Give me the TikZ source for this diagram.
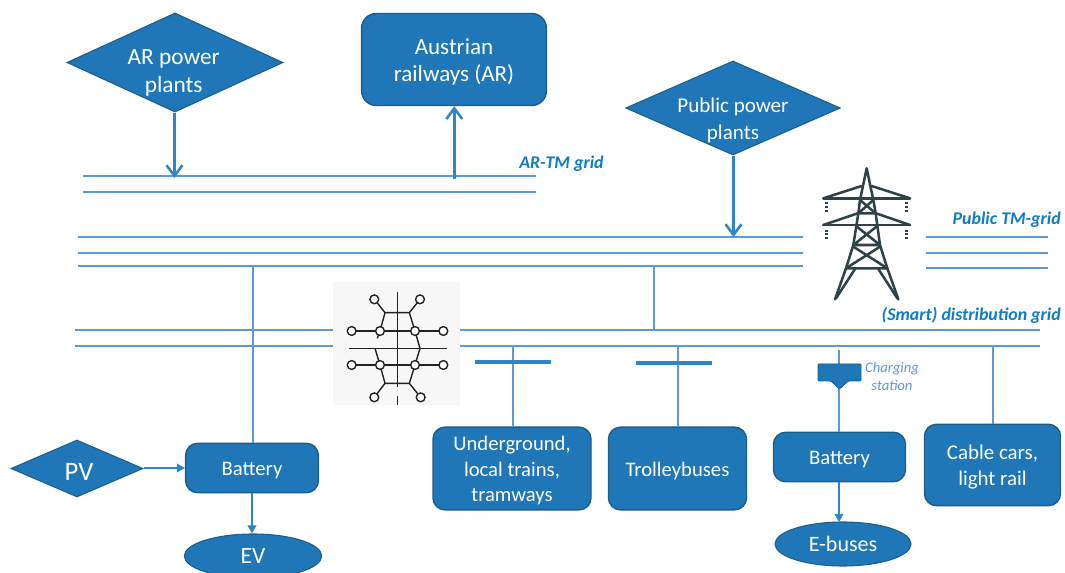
\documentclass[tikz,border=0pt]{standalone}
\usepackage{fontspec}
\setmainfont{Carlito}
\usetikzlibrary{shapes.geometric,arrows.meta}
\definecolor{boxfill}{HTML}{1F77B8}
\definecolor{boxedge}{HTML}{1B5E8C}
\definecolor{busline}{HTML}{5B9BD5}
\definecolor{arrowblue}{HTML}{2E86C8}
\definecolor{labelblue}{HTML}{0F7CC4}
\definecolor{towerdark}{HTML}{2F4247}
\definecolor{swdark}{HTML}{222222}
\tikzset{
 x=0.75pt,y=-0.75pt,
 solidbox/.style={draw=boxedge,line width=1.1pt,fill=boxfill,rounded corners=9pt,inner sep=0pt},
 gem/.style={diamond,draw=boxedge,line width=0.8pt,fill=boxfill,inner sep=0pt},
 gemtext/.style={text=white,align=center,inner sep=0pt,font=\fontsize{16.5pt}{21pt}\selectfont},
 boxtext/.style={text=white,align=center,inner sep=0pt,yshift=-1.6pt,font=\fontsize{15.5pt}{19pt}\selectfont},
 oval/.style={ellipse,draw=boxedge,line width=0.8pt,fill=boxfill,text=white,inner sep=0pt,font=\fontsize{17.5pt}{19pt}\selectfont},
 bus/.style={draw=busline,line width=1.15pt},
 feed/.style={draw=busline,line width=1pt},
 bigarrow/.style={draw=arrowblue,line width=1.9pt,-{Straight Barb[length=8pt,width=12pt,line width=1.9pt]}},
 smallarrow/.style={draw=arrowblue,line width=1pt,-{Triangle[length=6pt,width=6.5pt]}},
 gridlabel/.style={text=labelblue,font=\fontsize{13.4pt}{15pt}\selectfont\bfseries\itshape,inner sep=0pt},
 tbar/.style={draw=arrowblue,line width=2.3pt},
 tw/.style={draw=towerdark,line width=1.9pt,line cap=round,line join=round},
 sw/.style={draw=swdark,line width=1.05pt},
 swdot/.style={circle,draw=swdark,line width=1.05pt,fill=white,minimum size=6.6pt,inner sep=0pt},
}
\begin{document}
\begin{tikzpicture}
\useasboundingbox (0,0) rectangle (1065,573);
\fill[white] (0,0) rectangle (1065,573);
% bus ends
\coordinate (a1l) at (83,176); \coordinate (a1r) at (536,176);
\coordinate (a2l) at (83,192); \coordinate (a2r) at (536,192);
\coordinate (p1l) at (78,237); \coordinate (p1r) at (803,237);
\coordinate (p2l) at (78,253); \coordinate (p2r) at (803,253);
\coordinate (p3l) at (78,266); \coordinate (p3r) at (803,266);
\coordinate (q1l) at (926,237); \coordinate (q1r) at (1048,237);
\coordinate (q2l) at (926,253); \coordinate (q2r) at (1048,253);
\coordinate (q3l) at (926,268); \coordinate (q3r) at (1048,268);
\coordinate (d1l) at (75,330); \coordinate (d1m) at (333,330);
\coordinate (d1n) at (459,330); \coordinate (d1r) at (1040,330);
\coordinate (d2l) at (75,346); \coordinate (d2m) at (333,346);
\coordinate (d2n) at (459,346); \coordinate (d2r) at (1040,346);
\foreach \p/\q in {a1l/a1r,a2l/a2r,p1l/p1r,p2l/p2r,p3l/p3r,q1l/q1r,q2l/q2r,q3l/q3r,d1l/d1m,d1n/d1r,d2l/d2m,d2n/d2r}
  \draw[bus] (\p) -- (\q);
% nodes
\node[gem,aspect=2.18,minimum width=162pt,minimum height=74.3pt,label={[gemtext,name=arppt,yshift=-7.5pt,xshift=-1pt,font=\fontsize{17.5pt}{21pt}\selectfont]center:AR power\\plants}] (arpp) at (175,62.5) {};
\node[gem,aspect=2.29,minimum width=161pt,minimum height=70.5pt,label={[gemtext,name=pubppt,yshift=-9.3pt,font=\fontsize{15.8pt}{20.5pt}\selectfont]center:Public power\\plants}] (pubpp) at (733,108) {};
\node[gem,aspect=2.32,minimum width=99pt,minimum height=42.7pt,label={[gemtext,name=pvt,yshift=-2.5pt,xshift=1.5pt,font=\fontsize{20pt}{22pt}\selectfont]center:PV}] (pv) at (77,468.5) {};
\node[solidbox,minimum width=138.5pt,minimum height=69pt,rounded corners=11pt,label={[boxtext,name=art,font=\fontsize{17.3pt}{20.5pt}\selectfont]center:Austrian\\railways (AR)}] (ar) at (454,59.5) {};
\node[solidbox,minimum width=99.5pt,minimum height=37pt,label={[boxtext,name=bat1t,yshift=-0.6pt]center:Battery}] (bat1) at (252,468) {};
\node[solidbox,minimum width=118.5pt,minimum height=62pt,label={[boxtext,name=ugt]center:{Underground,\\local trains,\\tramways}}] (ug) at (512,468.5) {};
\node[solidbox,minimum width=103.5pt,minimum height=62pt,label={[boxtext,name=tbt]center:Trolleybuses}] (tb) at (677.5,468.5) {};
\node[solidbox,minimum width=99pt,minimum height=37pt,label={[boxtext,name=bat2t]center:Battery}] (bat2) at (839.5,457) {};
\node[solidbox,minimum width=102pt,minimum height=61pt,label={[boxtext,name=cct,font=\fontsize{15.7pt}{19pt}\selectfont]center:{Cable cars,\\light rail}}] (cc) at (992.5,465) {};
\node[oval,minimum width=103pt,minimum height=33pt] (ev) at (253,556) {EV};
\node[oval,minimum width=102pt,minimum height=33pt,font=\fontsize{16.5pt}{19pt}\selectfont] (eb) at (843,544) {E-buses};
% labels
\node[gridlabel,anchor=west] (l1) at (519,164) {AR-TM grid};
\node[gridlabel,anchor=east] (l2) at (1061,220) {Public TM-grid};
\node[gridlabel,anchor=east] (l3) at (1061,315) {(Smart) distribution grid};
\node[text=busline,align=center,inner sep=0pt,font=\fontsize{11pt}{13.5pt}\selectfont\itshape] (l4) at (892,376) {Charging\\station};
% arrows
\coordinate (ara) at (174.5,178);
\coordinate (arb) at (454.3,179);
\coordinate (pa) at (733.5,237);
\draw[bigarrow] (arpp.south -| ara) -- (ara);
\draw[bigarrow] (arb) -- (ar.south -| arb);
\draw[bigarrow] (pubpp.south -| pa) -- (pa);
\draw[smallarrow] (pv.east |- bat1.west) -- (bat1.west);
\draw[smallarrow] (bat1.south) -- (bat1.south |- ev.north);
\coordinate (bb) at (839,482);
\coordinate (bc) at (839,522);
\draw[smallarrow] (bb) -- (bc);
% feeders
\coordinate (f1) at (253,266); \draw[feed] (f1) -- (bat1.north -| f1);
\coordinate (f2) at (654,266); \coordinate (f2b) at (654,330); \draw[feed] (f2) -- (f2b);
\coordinate (f3) at (513,346); \draw[feed] (f3) -- (ug.north -| f3);
\coordinate (f4) at (678,346); \draw[feed] (f4) -- (tb.north -| f4);
\coordinate (f5) at (839,350); \draw[feed] (f5) -- (bat2.north -| f5);
\coordinate (f6) at (993,346); \draw[feed] (f6) -- (cc.north -| f6);
\coordinate (b1l) at (475,362); \coordinate (b1r) at (551,362); \draw[tbar] (b1l) -- (b1r);
\coordinate (b2l) at (636,363); \coordinate (b2r) at (712,363); \draw[tbar] (b2l) -- (b2r);
% charging station
\filldraw[fill=boxfill,draw=boxedge,line width=0.7pt,rounded corners=0.8pt]
  (818,364) -- (861,364) -- (861,381) -- (848,381) -- (839.5,389) -- (831,381) -- (818,381) -- cycle;
% switchgear symbol
\begin{scope}[shift={(320,270)},x=0.25pt,y=-0.25pt]
\fill[gray!6] (40,35) rectangle (420,405);
\draw[sw] (233,65) -- (233,350);
\draw[sw] (233,378) -- (233,405);
\draw[sw] (88,235) -- (380,235);
\draw[sw] (95,183) -- (370,183);
\draw[sw] (95,285) -- (370,285);
\draw[sw] (163,88) -- (195,128) -- (268,128) -- (300,88);
\draw[sw] (195,128) -- (180,183) -- (172,205);
\draw[sw] (268,128) -- (285,183) -- (300,235) -- (285,285) -- (268,340);
\draw[sw] (165,235) -- (180,285) -- (195,340) -- (268,340);
\draw[sw] (195,340) -- (163,382);
\draw[sw] (268,340) -- (302,382);
\foreach \a/\b in {163/88,300/88,95/183,180/183,285/183,370/183,95/285,180/285,285/285,370/285,163/382,302/382}
  \node[swdot] at (\a,\b) {};
\end{scope}
% pylon
\begin{scope}[shift={(790,150)},x=0.25pt,y=-0.25pt]
\draw[tw] (135,448) -- (168,355) -- (190,285) -- (205,190) -- (210,150) -- (230,55) -- (250,150) -- (257,190) -- (270,285) -- (292,355) -- (325,448);
\draw[tw] (100,145) -- (360,145);
\draw[tw] (100,225) -- (360,225);
\draw[tw] (100,145) -- (215,108) (360,145) -- (245,108);
\draw[tw] (100,225) -- (203,190) (360,225) -- (258,190);
\draw[tw] (210,150) -- (257,190) (250,150) -- (205,190) (205,190) -- (257,190);
\draw[tw] (198,228) -- (270,285) (262,228) -- (190,285) (190,285) -- (270,285);
\draw[tw] (190,290) -- (292,355) (270,290) -- (168,355) (168,355) -- (292,355);
\draw[tw] (195,357) -- (138,445) (265,357) -- (322,445);
\foreach \xx in {110,349}{
 \foreach \yy in {160,172,183,243,253,264}
  \draw[towerdark,line width=1.5pt] (\xx-5,\yy) -- (\xx+5,\yy);
}
\end{scope}
\end{tikzpicture}
\end{document}
